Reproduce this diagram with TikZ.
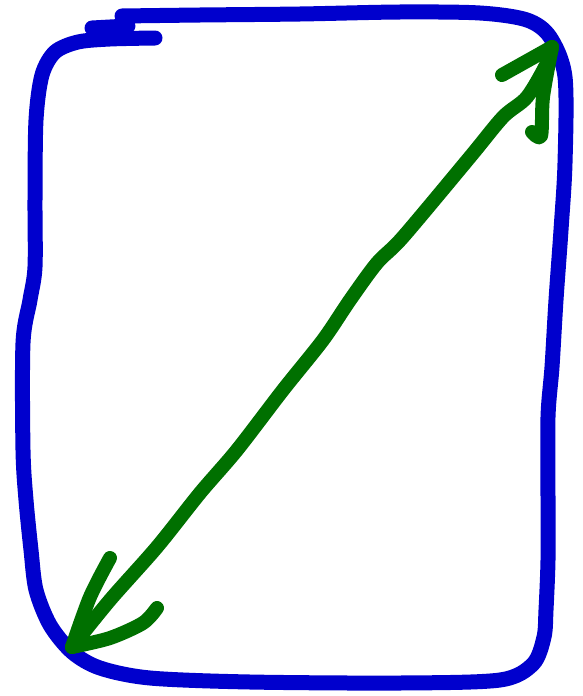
\documentclass[tikz,border=0pt]{standalone}
\begin{document}
\begin{tikzpicture}[x=1pt,y=-1pt,
  bluepen/.style={draw={rgb,255:red,0;green,0;blue,205},line width=15pt,line cap=round,line join=round},
  greenpen/.style={draw={rgb,255:red,0;green,112;blue,0},line width=14pt,line cap=round,line join=round}]
\useasboundingbox[fill=white] (0,0) rectangle (582,696);
% blue hand-drawn frame
\draw[bluepen] plot[smooth,tension=0.5] coordinates {
 (122,16) (200,15) (300,14) (400,12) (480,13) (527,20) (550,37) (565,77)
 (565,163) (561,230) (556,300) (552,367) (548,417) (548,500) (548,560)
 (546,610) (544,637) (533,664) (500,680) (400,683) (250,682) (150,678)
 (100,668) (72,652) (50,625) (36,590) (31,550) (26,500) (23,450) (23,343)
 (30,300) (35,267) (35,200) (36,120) (42,75) (55,52) (78,42) (110,39) (155,38)};
\draw[bluepen] (92,28) -- (128,26) -- (125,18);
% green double arrow
\coordinate (tipA) at (552,47);
\coordinate (tipB) at (72,647);
\draw[greenpen] plot[smooth,tension=0.5] coordinates {
 (tipA) (547,63) (527,97) (503,117) (470,157) (403,237) (377,263)
 (350,300) (323,340) (283,390) (237,450) (200,493) (157,547)
 (110,600) (tipB)};
\draw[greenpen] (tipA) -- (502,75);
\draw[greenpen] plot[smooth,tension=0.5] coordinates {(tipA) (543,97) (541,136) (532,132)};
\draw[greenpen] plot[smooth,tension=0.5] coordinates {(tipB) (90,597) (110,558)};
\draw[greenpen] plot[smooth,tension=0.5] coordinates {(tipB) (110,638) (143,623) (157,608)};
\end{tikzpicture}
\end{document}
